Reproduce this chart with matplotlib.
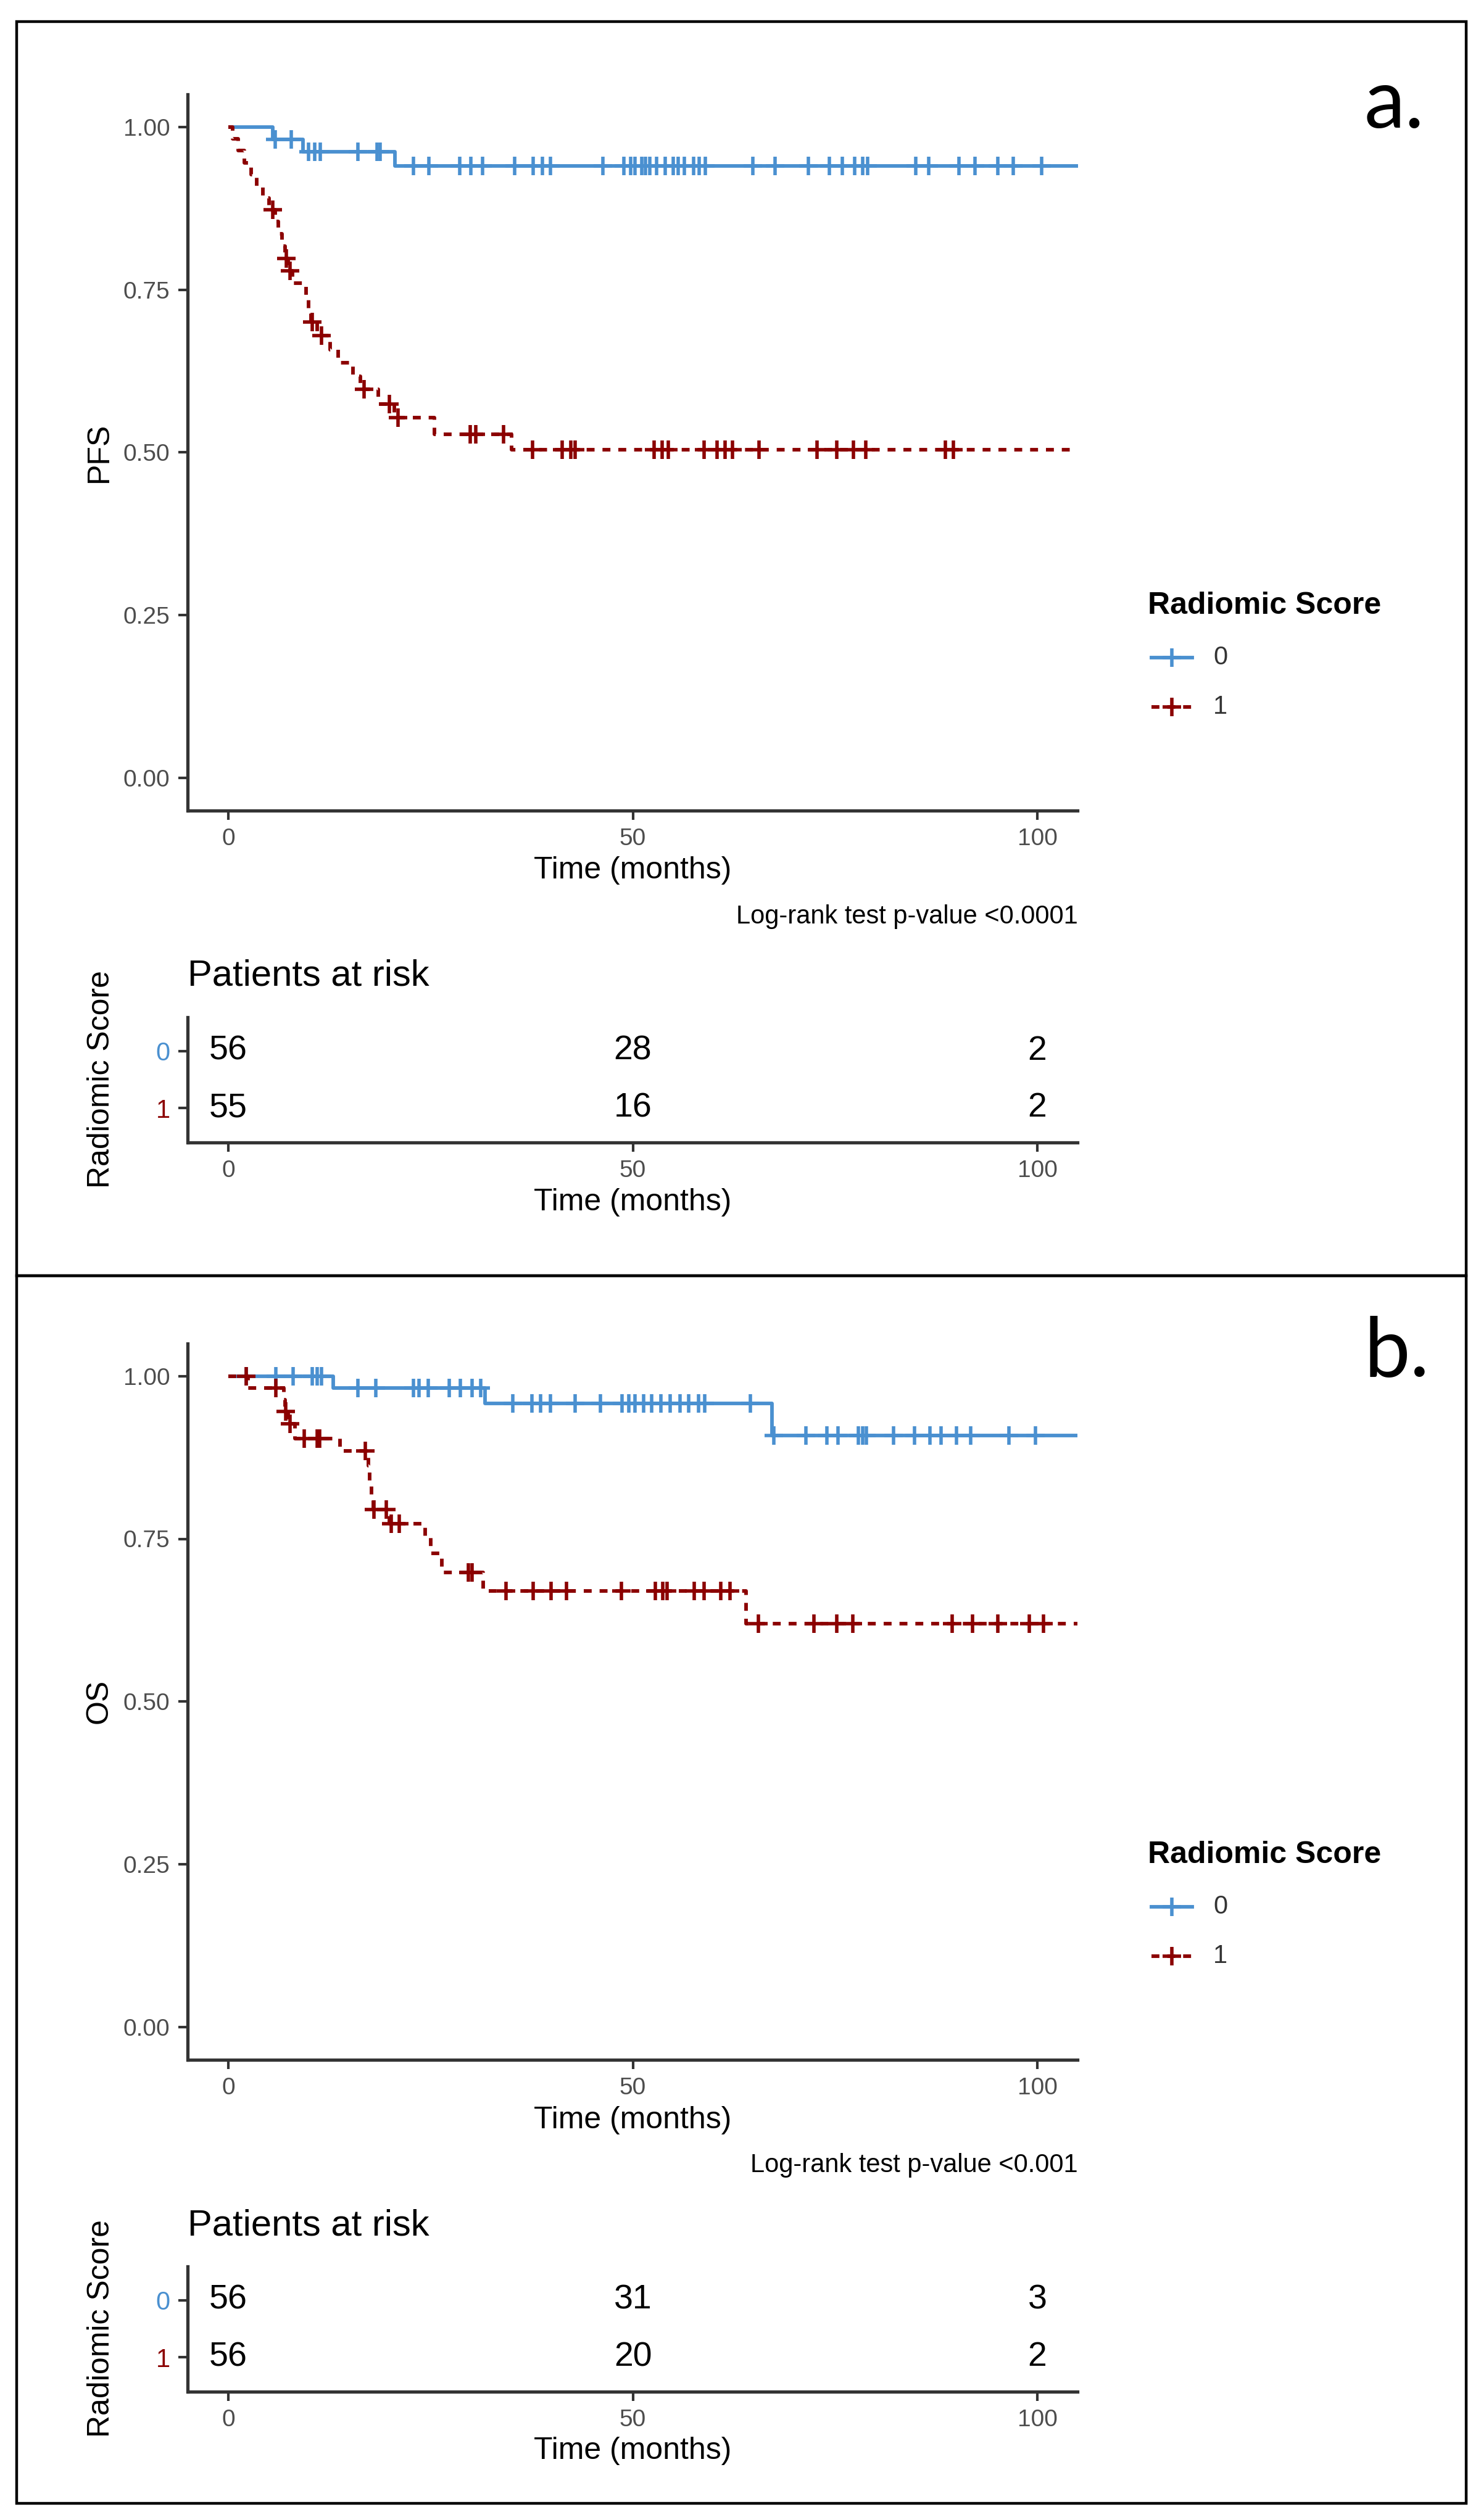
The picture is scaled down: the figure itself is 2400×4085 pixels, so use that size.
import numpy as np
import matplotlib
matplotlib.use("Agg")
import matplotlib.pyplot as plt
from matplotlib.lines import Line2D
from matplotlib.patches import Rectangle

plt.rcParams['font.family'] = ['Liberation Sans', 'DejaVu Sans']

# ---------------- data ----------------
groups = ["0", "1"]
risk_times = [0, 50, 100]

# Panel a: PFS
pfs0_event_t = [5.5, 9.2, 20.6]
pfs0_event_s = [0.981, 0.962, 0.940]
pfs0_cens = [5.8, 7.8, 9.9, 10.7, 11.4, 16.0, 18.4, 18.8, 22.9, 24.8, 28.6, 30.0, 31.4,
             35.4, 37.7, 38.8, 39.8, 46.3, 48.9, 49.7, 50.3, 51.1, 51.6, 52.1, 52.9, 54.0,
             55.0, 55.6, 56.4, 57.5, 58.2, 59.0, 64.8, 67.6, 71.7, 74.3, 75.9, 77.4, 78.4,
             79.0, 85.0, 86.6, 90.3, 92.3, 95.1, 97.0, 100.5]
pfs0_end = 105.4

pfs1_event_t = [0.5, 1.2, 2.0, 2.8, 3.5, 4.3, 5.0, 5.8, 6.2, 6.6, 7.0, 7.4, 7.9, 9.6, 9.9,
                10.2, 11.0, 12.6, 13.6, 15.4, 16.3, 18.5, 20.5, 25.5, 35.0]
pfs1_event_s = [0.982, 0.964, 0.945, 0.927, 0.909, 0.891, 0.873, 0.855, 0.836, 0.817, 0.798,
                0.779, 0.760, 0.740, 0.720, 0.700, 0.679, 0.658, 0.638, 0.617, 0.597, 0.574,
                0.553, 0.528, 0.504]
pfs1_cens = [5.5, 7.2, 7.6, 10.4, 11.5, 16.8, 19.9, 21.0, 29.9, 30.6, 34.0, 37.6, 41.3, 42.3,
             42.9, 52.6, 53.6, 54.4, 58.8, 60.4, 61.4, 62.3, 65.6, 72.8, 75.2, 77.3, 78.8,
             88.6, 89.6]
pfs1_end = 104.3

pfs_risk0 = [56, 28, 2]
pfs_risk1 = [55, 16, 2]
pfs_pvalue = "Log-rank test p-value <0.0001"

# Panel b: OS
os0_event_t = [13.0, 31.7, 67.2]
os0_event_s = [0.982, 0.958, 0.909]
os0_cens = [2.2, 5.9, 8.0, 10.4, 11.0, 11.5, 16.0, 18.2, 22.9, 23.6, 24.7, 27.3, 28.7, 30.1,
            31.2, 35.2, 37.5, 38.6, 39.8, 42.9, 46.0, 48.7, 49.5, 50.3, 51.3, 52.3, 53.5,
            54.6, 55.8, 56.9, 58.1, 58.9, 64.5, 67.4, 71.4, 74.0, 75.4, 77.9, 78.4, 78.9,
            82.2, 84.8, 86.7, 88.1, 90.0, 91.8, 96.5, 99.8]
os0_end = 105.0

os1_event_t = [2.4, 6.9, 7.0, 7.4, 8.2, 13.8, 17.3, 17.5, 17.7, 17.9, 19.9, 24.3, 25.0, 26.4,
               31.5, 64.0]
os1_event_s = [0.982, 0.964, 0.946, 0.927, 0.904, 0.885, 0.862, 0.840, 0.818, 0.795, 0.773,
               0.751, 0.728, 0.698, 0.670, 0.620]
os1_cens = [2.2, 5.9, 7.1, 7.6, 9.4, 11.0, 11.3, 16.9, 18.0, 19.5, 20.1, 21.1, 29.7, 30.1,
            34.3, 37.7, 39.9, 41.8, 48.6, 52.8, 53.7, 54.2, 57.6, 58.8, 60.9, 62.0, 65.5,
            72.4, 75.2, 77.2, 89.5, 92.0, 95.1, 99.0, 100.8]
os1_end = 105.0

os_risk0 = [56, 31, 3]
os_risk1 = [56, 20, 2]
os_pvalue = "Log-rank test p-value <0.001"

# ---------------- styling / layout ----------------
W, H, DPI = 2400, 4085, 200
BLUE = '#4A90D0'
RED = '#8B0000'
AXC = '#333333'
TICKC = '#4D4D4D'
FS_TICK = 14
FS_TITLE = 18
LW = 2.1
MS = 11
MEW = 2.0

fig = plt.figure(figsize=(W / DPI, H / DPI), dpi=DPI)
fig.patch.set_facecolor('white')


def rect(x0, y0, x1, y1):
    return [x0 / W, 1 - y1 / H, (x1 - x0) / W, (y1 - y0) / H]


def fx(x):
    return x / W


def fy(y):
    return 1 - y / H


X0, X1 = 304.5, 1746.5   # pixel extent of x range (-5, 105)
XC = (X0 + X1) / 2


def style_axes(ax):
    for s in ['top', 'right']:
        ax.spines[s].set_visible(False)
    for s in ['left', 'bottom']:
        ax.spines[s].set_color(AXC)
        ax.spines[s].set_linewidth(1.9)
    ax.tick_params(axis='both', length=5.4, width=1.5, color=AXC, labelcolor=TICKC,
                   labelsize=FS_TICK, pad=5)
    ax.set_xlim(-5, 105)
    ax.set_xticks([0, 50, 100])
    ax.set_xticklabels(['0', '50', '100'])
    ax.patch.set_alpha(0)


def km_curve(ax, evt_t, evt_s, cens, t_end, color, ls):
    x = np.concatenate([[0.0], evt_t, [t_end]])
    y = np.concatenate([[1.0], evt_s, [evt_s[-1]]])
    ax.step(x, y, where='post', color=color, lw=LW, linestyle=ls, solid_capstyle='butt')
    cens = np.asarray(cens)
    cs = y[np.searchsorted(x, cens, side='right') - 1]
    ax.plot(cens, cs, linestyle='none', marker='+', markersize=MS, markeredgewidth=MEW,
            color=color)


DASH = (0, (2.2, 2.2))


def panel(top, ylab, curves, risk0, risk1, pval, label, label_base):
    # main survival axes
    y_top = top                 # pixel of 1.05
    unit = 1055.0
    y_bot = y_top + 1.1 * unit  # pixel of -0.05
    ax = fig.add_axes(rect(X0, y_top, X1, y_bot))
    style_axes(ax)
    ax.set_ylim(-0.05, 1.05)
    ax.set_yticks([0, 0.25, 0.5, 0.75, 1.0])
    ax.set_yticklabels(['0.00', '0.25', '0.50', '0.75', '1.00'])
    for (et, es, ce, te, col, ls) in curves:
        km_curve(ax, et, es, ce, te, col, ls)

    fig.text(fx(161), fy((y_top + y_bot) / 2), ylab, rotation=90, fontsize=FS_TITLE,
             ha='center', va='center', color='black')
    fig.text(fx(XC), fy(y_bot + 98), 'Time (months)', fontsize=FS_TITLE, ha='center',
             va='center', color='black')
    fig.text(fx(X1), fy(y_bot + 172), pval, fontsize=15, ha='right', va='center',
             color='black')
    fig.text(fx(X0), fy(y_bot + 269), 'Patients at risk', fontsize=21.5, ha='left',
             va='center', color='black')

    # legend
    lt = y_top + 829
    fig.text(fx(1860), fy(lt), 'Radiomic Score', fontsize=FS_TITLE, fontweight='bold',
             ha='left', va='center', color='black')
    for k, (col, ls, lab) in enumerate([(BLUE, '-', groups[0]), (RED, DASH, groups[1])]):
        yy = lt + 84 + 80 * k
        fig.add_artist(Line2D([fx(1866), fx(1932)], [fy(yy), fy(yy)], color=col, lw=LW,
                              linestyle=ls, transform=fig.transFigure))
        fig.add_artist(Line2D([fx(1899)], [fy(yy)], marker='+', markersize=MS,
                              markeredgewidth=MEW, color=col, transform=fig.transFigure))
        fig.text(fx(1966), fy(yy), lab, fontsize=15, color='#333333', ha='left', va='center')

    # risk table
    r_top = y_bot + 335
    r_bot = r_top + 203
    axr = fig.add_axes(rect(X0, r_top, X1, r_bot))
    style_axes(axr)
    axr.set_ylim(0.4, 2.6)
    axr.set_yticks([1, 2])
    axr.set_yticklabels([groups[1], groups[0]])
    axr.tick_params(axis='y', labelsize=15)
    axr.get_yticklabels()[0].set_color(RED)
    axr.get_yticklabels()[1].set_color(BLUE)
    for t, n0, n1 in zip(risk_times, risk0, risk1):
        axr.text(t, 2, str(n0), ha='center', va='center', fontsize=20, color='black')
        axr.text(t, 1, str(n1), ha='center', va='center', fontsize=20, color='black')
    fig.text(fx(XC), fy(r_bot + 97), 'Time (months)', fontsize=FS_TITLE, ha='center',
             va='center', color='black')
    fig.text(fx(164), fy((r_top + r_bot) / 2), 'Radiomic Score', rotation=90,
             fontsize=FS_TITLE, ha='center', va='center', color='black')

    # panel letter
    fig.text(fx(2211), fy(label_base), label, fontsize=48, family=['Lato', 'DejaVu Sans'],
             ha='left', va='baseline', color='black')


panel(153, 'PFS',
      [(pfs0_event_t, pfs0_event_s, pfs0_cens, pfs0_end, BLUE, '-'),
       (pfs1_event_t, pfs1_event_s, pfs1_cens, pfs1_end, RED, DASH)],
      pfs_risk0, pfs_risk1, pfs_pvalue, 'a.', 207)

panel(2178, 'OS',
      [(os0_event_t, os0_event_s, os0_cens, os0_end, BLUE, '-'),
       (os1_event_t, os1_event_s, os1_cens, os1_end, RED, DASH)],
      os_risk0, os_risk1, os_pvalue, 'b.', 2231)

# outer frames
for (a, b) in [(35, 2068), (2068, 4058)]:
    fig.add_artist(Rectangle((fx(27), fy(b)), (2376 - 27) / W, (b - a) / H, fill=False,
                             edgecolor='black', lw=1.6, transform=fig.transFigure))

fig.savefig('out.png', dpi=DPI, facecolor='white')
